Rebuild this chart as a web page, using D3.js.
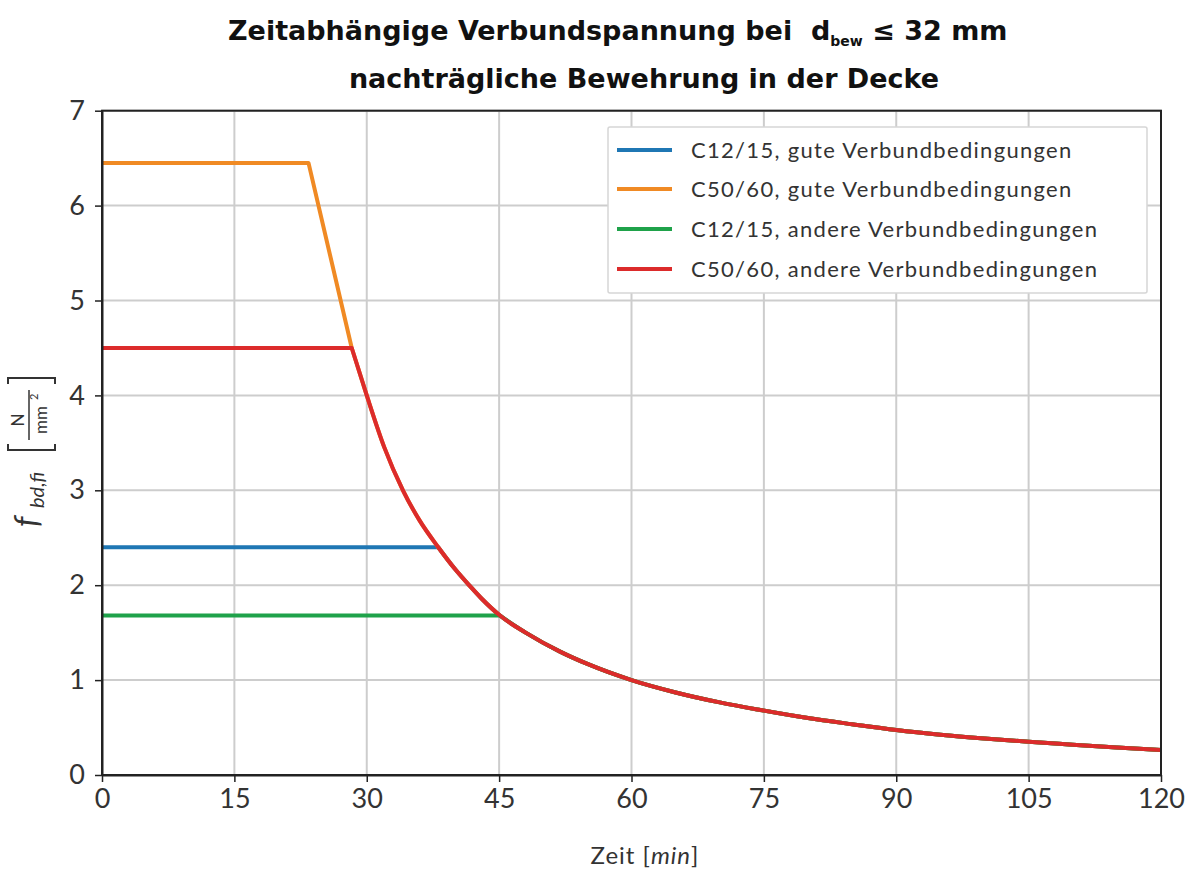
<!DOCTYPE html>
<html><head><meta charset="utf-8">
<script src="https://cdn.jsdelivr.net/npm/d3@7"></script>
<style>body{margin:0;background:#fff;} svg{display:block;}</style>
</head><body>
<svg id="chart" width="1200" height="879"></svg>
<script>
// ---- data ----
const xTicks = [0, 15, 30, 45, 60, 75, 90, 105, 120];
const yTicks = [0, 1, 2, 3, 4, 5, 6, 7];
const seriesNames = [
  "C12/15, gute Verbundbedingungen",
  "C50/60, gute Verbundbedingungen",
  "C12/15, andere Verbundbedingungen",
  "C50/60, andere Verbundbedingungen"
];
const seriesColors = ["#1f77b4", "#f08a24", "#1fa24a", "#dc2b2b"];
// common decay curve (time in min, f_bd,fi in N/mm²)
const curveTime  = [28.3, 30, 32, 34.1, 36, 38.1, 40, 41.6, 43, 45.1, 48, 51.9, 55, 60, 65, 70, 74.6, 80, 85, 90, 95, 100, 105, 110, 115, 120];
const curveValue = [4.50, 4.00, 3.45, 3.00, 2.68, 2.40, 2.17, 2.00, 1.86, 1.68, 1.50, 1.30, 1.17, 1.00, 0.87, 0.765, 0.685, 0.60, 0.535, 0.474, 0.425, 0.385, 0.35, 0.32, 0.29, 0.263];
// plateau values and the time where each series leaves its plateau
const plateauValue = [2.40, 6.45, 1.68, 4.50];
const plateauEnd   = [38.1, 23.4, 45.1, 28.3];

// ---- layout ----
const svg = d3.select("#chart");
const L = 102, R = 1161, T = 110.7, B = 775;
const x = d3.scaleLinear().domain([0, 120]).range([L, R]);
const y = d3.scaleLinear().domain([0, 7]).range([B, T]);
const font = "Lato, 'Open Sans', sans-serif";

// grid
svg.append("g").selectAll("line").data(xTicks).join("line")
  .attr("x1", d => x(d)).attr("x2", d => x(d)).attr("y1", T).attr("y2", B)
  .attr("stroke", "#cdcdcd").attr("stroke-width", 2);
svg.append("g").selectAll("line").data(yTicks).join("line")
  .attr("x1", L).attr("x2", R).attr("y1", d => y(d)).attr("y2", d => y(d))
  .attr("stroke", "#cdcdcd").attr("stroke-width", 2);

// series
const line = d3.line().x(d => x(d[0])).y(d => y(d[1]));
const curveLine = d3.line().x(d => x(d[0])).y(d => y(d[1])).curve(d3.curveMonotoneX);
seriesNames.forEach((name, i) => {
  const head = [[0, plateauValue[i]], [plateauEnd[i], plateauValue[i]]];
  let tail;
  if (i === 1) {
    // orange: plateau, straight drop to the start of the curve, then the curve
    tail = curveTime.map((t, k) => [t, curveValue[k]]);
  } else {
    tail = [[plateauEnd[i], plateauValue[i]]];
    curveTime.forEach((t, k) => { if (t > plateauEnd[i] + 0.01) tail.push([t, curveValue[k]]); });
  }
  const path = line(head) + curveLine(tail).replace(/^M/, "L");
  svg.append("path").attr("d", path).attr("fill", "none")
    .attr("stroke", seriesColors[i]).attr("stroke-width", 4)
    .attr("stroke-linejoin", "round");
});

// frame
svg.append("rect").attr("x", L).attr("y", T).attr("width", R - L).attr("height", B - T)
  .attr("fill", "none").attr("stroke", "#222").attr("stroke-width", 2);

// axes
const xAxis = svg.append("g").attr("transform", `translate(0,${B})`)
  .call(d3.axisBottom(x).tickValues(xTicks).tickSize(7).tickPadding(7).tickSizeOuter(0));
const yAxis = svg.append("g").attr("transform", `translate(${L},0)`)
  .call(d3.axisLeft(y).tickValues(yTicks).tickFormat(d3.format("d")).tickSize(7).tickPadding(10).tickSizeOuter(0));
[xAxis, yAxis].forEach(a => {
  a.select(".domain").attr("stroke", "#222").attr("stroke-width", 2);
  a.selectAll(".tick line").attr("stroke", "#222").attr("stroke-width", 1.5);
  a.selectAll(".tick text").attr("font-family", font).attr("font-size", 27)
    .attr("fill", "#333");
});

// legend
const lg = svg.append("g");
lg.append("rect").attr("x", 608).attr("y", 127).attr("width", 539).attr("height", 166)
  .attr("fill", "#fff").attr("stroke", "#d6d6d6").attr("stroke-width", 1.5).attr("rx", 2);
const legY = [150, 189, 229, 269];
seriesNames.forEach((name, i) => {
  lg.append("line").attr("x1", 617).attr("x2", 672).attr("y1", legY[i]).attr("y2", legY[i])
    .attr("stroke", seriesColors[i]).attr("stroke-width", 4);
  lg.append("text").attr("x", 691).attr("y", legY[i] + 8).text(name)
    .attr("font-family", font).attr("font-size", 22).attr("letter-spacing", 1.3).attr("fill", "#333");
});

// title
const tfont = "'DejaVu Sans', sans-serif";
const t1 = svg.append("text").attr("x", 228).attr("y", 40)
  .attr("font-family", tfont).attr("font-weight", 700).attr("font-size", 27).attr("fill", "#111");
t1.append("tspan").text("Zeitabhängige Verbundspannung bei\u00a0\u00a0d");
t1.append("tspan").text("bew").attr("font-size", 14).attr("dy", 6);
t1.append("tspan").text(" ≤ 32 mm").attr("dy", -6);
svg.append("text").attr("x", 644).attr("y", 88).attr("text-anchor", "middle")
  .attr("font-family", tfont).attr("font-weight", 700).attr("font-size", 27).attr("fill", "#111")
  .text("nachträgliche Bewehrung in der Decke");

// x label
const xl = svg.append("text").attr("x", 645).attr("y", 864).attr("text-anchor", "middle")
  .attr("font-family", font).attr("font-size", 24).attr("letter-spacing", 1).attr("fill", "#333");
xl.append("tspan").text("Zeit [");
xl.append("tspan").text("min").attr("font-style", "italic");
xl.append("tspan").text("]");

// y label (rotated)
const yl = svg.append("g").attr("transform", "translate(0,530) rotate(-90)")
  .attr("font-family", font).attr("fill", "#333");
yl.append("text").attr("x", 3).attr("y", 38).attr("font-size", 33).attr("font-style", "italic").text("f");
yl.append("text").attr("x", 22).attr("y", 44).attr("font-size", 20).attr("font-style", "italic").text("bd,fi");
yl.append("path").attr("d", "M86,8 L80,8 L80,55 L86,55").attr("fill", "none").attr("stroke", "#333").attr("stroke-width", 2);
yl.append("path").attr("d", "M146,8 L152,8 L152,55 L146,55").attr("fill", "none").attr("stroke", "#333").attr("stroke-width", 2);
yl.append("text").attr("x", 110).attr("y", 24).attr("text-anchor", "middle").attr("font-size", 17).text("N");
yl.append("line").attr("x1", 90).attr("x2", 140).attr("y1", 29).attr("y2", 29).attr("stroke", "#333").attr("stroke-width", 1.5);
yl.append("text").attr("x", 110).attr("y", 47).attr("text-anchor", "middle").attr("font-size", 17).text("mm");
yl.append("text").attr("x", 130).attr("y", 38).attr("font-size", 11).text("2");
</script>
</body></html>
